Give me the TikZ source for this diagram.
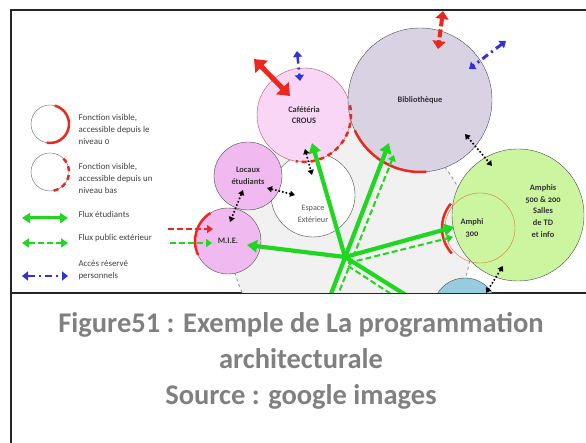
\documentclass[tikz,border=0pt]{standalone}
\usepackage{fontspec}
\setmainfont{Carlito}
\newfontfamily\oldnum[Numbers=OldStyle]{Carlito}
\usetikzlibrary{arrows.meta, positioning}

\definecolor{vert}{RGB}{30,215,30}
\definecolor{rouge}{RGB}{235,40,30}
\definecolor{bleu}{RGB}{50,50,215}
\definecolor{rose}{RGB}{250,214,246}
\definecolor{mauve}{RGB}{240,186,240}
\definecolor{lavande}{RGB}{216,210,226}
\definecolor{anis}{RGB}{204,245,160}
\definecolor{ciel}{RGB}{150,204,222}
\definecolor{fond}{RGB}{241,241,241}
\definecolor{ocre}{RGB}{215,120,40}
\definecolor{brique}{RGB}{180,80,80}

\tikzset{
    salle/.style = {circle, draw=black!70, inner sep=0pt, thin},
    nom/.style = {font=\fontsize{8.4}{11.8}\selectfont\bfseries\oldnum, text=black!80, align=center},
    nomclair/.style = {font=\fontsize{8.2}{11.8}\selectfont, text=black!65, align=center},
    flux/.style = {draw=vert, line width=4.2pt, -{Triangle[length=10pt,width=12pt]}},
    fluxpub/.style = {draw=vert, line width=2pt, dash pattern=on 6pt off 3pt, -{Triangle[length=6pt,width=8pt]}},
    perso/.style = {draw=bleu, line width=3pt, dash pattern=on 7pt off 4pt on 2pt off 4pt, {Triangle[length=6pt,width=9pt]}-{Triangle[length=6pt,width=9pt]}},
    lien/.style = {black, line width=1.6pt, dotted, {Triangle[length=5pt,width=6pt]}-{Triangle[length=5pt,width=6pt]}},
    visible/.style = {rouge, line width=2.5pt},
    visiblebas/.style = {rouge, line width=2.5pt, dash pattern=on 5pt off 4pt},
    legtxt/.style = {font=\fontsize{8.9}{12}\selectfont\oldnum, text=black!75, align=left, anchor=west}
}

\begin{document}
\begin{tikzpicture}[x=1pt, y=1pt, >=Triangle]
    \useasboundingbox (0,0) rectangle (586,443);

    % Cadre
    \draw[line width=1.5pt, black!85] (11,0) -- (11,433) -- (586,433);
    \draw[line width=1.5pt, black!85] (11,150) -- (586,150);

    % Legende
    \node[salle, minimum size=38pt, fill=white, draw=black!60] (leg1) at (50,319) {};
    \draw[visible] ([shift={(75:19)}]leg1.center) arc[start angle=75, end angle=-100, radius=19];
    \node[legtxt, right=6pt of leg1, yshift=-5pt] (leg1txt) {Fonction visible,\\accessible depuis le\\niveau 0};
    \node[salle, minimum size=38pt, fill=white, draw=black!60] (leg2) at (50,271) {};
    \draw[visiblebas] ([shift={(45:19)}]leg2.center) arc[start angle=45, end angle=-80, radius=19];
    \node[legtxt, right=6pt of leg2, yshift=-6pt] (leg2txt) {Fonction visible,\\accessible depuis un\\niveau bas};

    \coordinate (la1) at (22,225);
    \coordinate (lb1) at (68,225);
    \coordinate (la2) at (22,200);
    \coordinate (lb2) at (68,200);
    \coordinate (la3) at (22,167);
    \coordinate (lb3) at (68,167);
    \draw[flux, line width=3pt, {Triangle[length=8pt,width=10pt]}-{Triangle[length=8pt,width=10pt]}] (la1) -- (lb1);
    \draw[fluxpub, {Triangle[length=7pt,width=9pt]}-{Triangle[length=7pt,width=9pt]}] (la2) -- (lb2);
    \draw[perso, line width=2.5pt] (la3) -- (lb3);
    \node[legtxt] (leg3txt) at (75,229) {Flux étudiants};
    \node[legtxt] (leg4txt) at (75,205) {Flux public extérieur};
    \node[legtxt] (leg5txt) at (75,173) {Accès réservé\\personnels};

    \begin{scope}
        \clip (11,150) rectangle (586,433);

        % Nodes
        \node[salle, minimum size=240pt, fill=fond, draw=black!40, dashed, line width=0.9pt] (zone) at (351,201) {};
        \node[salle, minimum size=64pt, fill=ciel] (bleu) at (465,133) {};
        \node[salle, minimum size=132pt, fill=anis] (amphis) at (518,228) {};
        \node[salle, minimum size=70pt, draw=ocre] (amphi) at (480,215) {};
        \node[salle, minimum size=84pt, fill=white] (esp) at (313,248) {};
        \node[salle, nom, minimum size=94pt, fill=rose, draw=brique] (caf) at (304,328) {Cafétéria\\CROUS};
        \node[salle, nom, minimum size=144pt, fill=lavande] (bib) at (420,343) {Bibliothèque};
        \node[salle, nom, minimum size=68pt, fill=mauve] (loc) at (248,267) {Locaux\\étudiants};
        \node[salle, nom, minimum size=66pt, fill=mauve] (mie) at (228,202) {M.I.E.};

        \node[nomclair] (esplbl) at (313,229) {Espace\\Extérieur};
        \node[nom] (amphilbl) at (472,215) {Amphi\\300};
        \node[nom] (amphislbl) at (543,232) {Amphis\\500 \& 200\\Salles\\de TD\\et info};

        % Acces visibles
        \draw[visible] ([shift={(205:72)}]bib.center) arc[start angle=205, end angle=275, radius=72];
        \draw[visible] ([shift={(122:33)}]mie.center) arc[start angle=122, end angle=205, radius=33];
        \draw[visible] ([shift={(140:38)}]amphi.center) arc[start angle=140, end angle=222, radius=38];
        \draw[visiblebas] ([shift={(12:47)}]caf.center) arc[start angle=12, end angle=-100, radius=47];

        % Edges
        \coordinate (hub) at (345,186);
        \coordinate (pbas) at (326,136);
        \coordinate (psud) at (425,136);
        \coordinate (dbas) at (333,136);
        \coordinate (dhub) at (348,180);
        \coordinate (dhub2) at (348,177);
        \coordinate (dsud) at (411,136);

        \draw[flux] (hub) -- ([shift={(8,-28)}]caf.center);
        \draw[flux] (hub) -- ([shift={(19,-4)}]mie.center);
        \draw[flux] (hub) -- ([shift={(-26,1)}]amphi.center);
        \draw[flux] (pbas) -- ([shift={(-31,-43)}]bib.center);
        \draw[flux, -] (hub) -- (psud);
        \draw[fluxpub] (dbas) -- ([shift={(-26,-55)}]bib.center);
        \draw[fluxpub] (dhub) -- ([shift={(-27,-9)}]amphi.center);
        \draw[fluxpub, -] (dhub2) -- (dsud);

        \coordinate (l1a) at (305,294);
        \coordinate (l2a) at (267,255);
        \coordinate (l3a) at (243,253);
        \coordinate (l4a) at (465,309);
        \coordinate (l5a) at (503,177);
        \draw[lien] (l1a) -- ([shift={(-1,20)}]esp.center);
        \draw[lien] (l2a) -- ([shift={(-18,0)}]esp.center);
        \draw[lien] (l3a) -- ([shift={(2,19)}]mie.center);
        \draw[lien] (l4a) -- ([shift={(-26,49)}]amphis.center);
        \draw[lien] (l5a) -- ([shift={(21,17)}]bleu.center);

        \coordinate (r1a) at (254,384);
        \coordinate (r2a) at (443,432);
        \coordinate (b1a) at (297,392);
        \coordinate (b2a) at (506,402);
        \draw[rouge, line width=5pt, {Triangle[length=11pt,width=17pt]}-{Triangle[length=11pt,width=17pt]}] (r1a) -- ([shift={(-14,19)}]caf.center);
        \draw[rouge, line width=4pt, dash pattern=on 8pt off 3pt, {Triangle[length=8pt,width=13pt]}-{Triangle[length=8pt,width=13pt]}] (r2a) -- ([shift={(18,51)}]bib.center);
        \draw[perso, line width=2.5pt] (b1a) -- ([shift={(-4,34)}]caf.center);
        \draw[perso] (b2a) -- ([shift={(49,31)}]bib.center);

        \coordinate (e1) at (168,214);
        \coordinate (e2) at (170,200);
        \draw[rouge, line width=2pt, dash pattern=on 6pt off 3pt, -{Triangle[length=6pt,width=8pt]}] (e1) -- ([shift={(-15,12)}]mie.center);
        \draw[fluxpub] (e2) -- ([shift={(-16,-2)}]mie.center);
    \end{scope}

    % Titre
    \node[font=\fontsize{28.5}{36}\selectfont\bfseries, text=black!50, align=center] (titre) at (301,82) {Figure51 : Exemple de La programmation\\architecturale\\Source : google images};
\end{tikzpicture}
\end{document}
